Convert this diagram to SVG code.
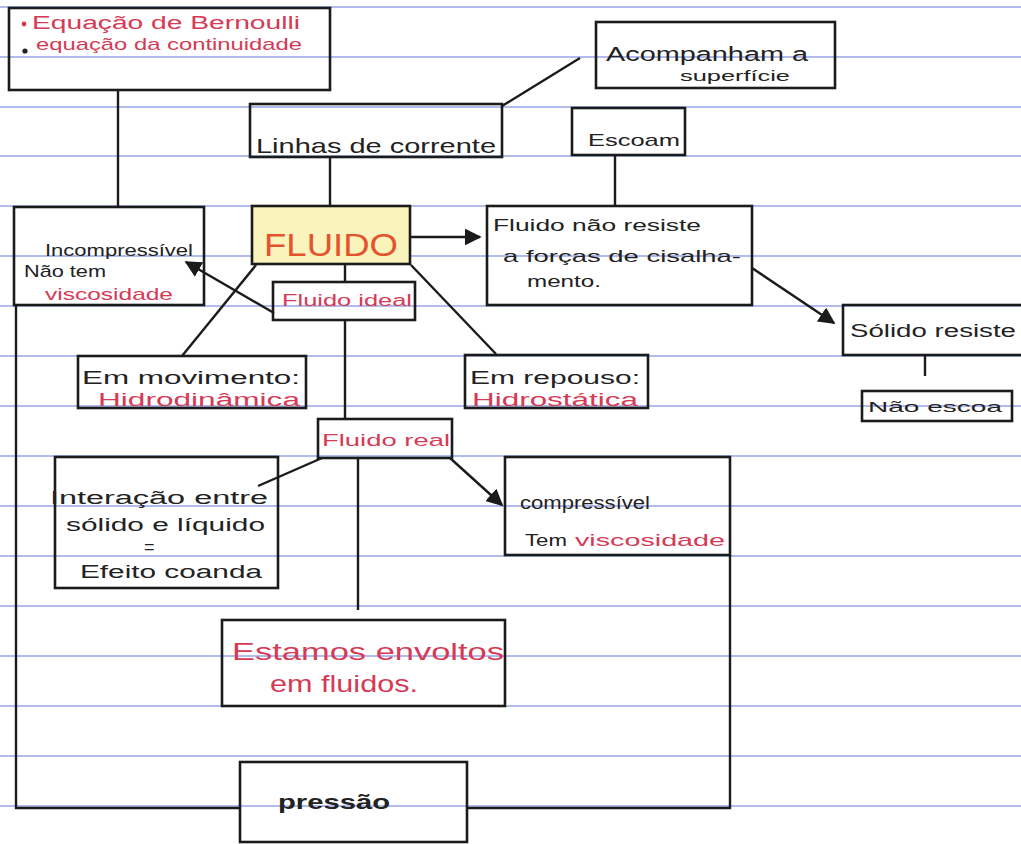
<svg xmlns="http://www.w3.org/2000/svg" width="1021" height="844" viewBox="0 0 1021 844">
<style>
.rule{stroke:#97a6e6;stroke-width:1.6}
.box{fill:none;stroke:#1b1b1b;stroke-width:2.6}
.con{fill:none;stroke:#1b1b1b;stroke-width:2.4}
.t{font-family:"Liberation Sans",Arial,sans-serif;fill:#222}
.r{fill:#d63a55}
</style>
<defs>
<marker id="ah" viewBox="0 0 10 10" refX="9" refY="5" markerWidth="7" markerHeight="7" markerUnits="strokeWidth" orient="auto">
<path d="M0,0 L10,5 L0,10 z" fill="#1b1b1b"/>
</marker>
</defs>
<rect width="1021" height="844" fill="#fff"/>
<g id="paper-lines">
<line class="rule" x1="0" y1="7" x2="1021" y2="7"/>
<line class="rule" x1="0" y1="57" x2="1021" y2="57"/>
<line class="rule" x1="0" y1="107" x2="1021" y2="107"/>
<line class="rule" x1="0" y1="156" x2="1021" y2="156"/>
<line class="rule" x1="0" y1="206" x2="1021" y2="206"/>
<line class="rule" x1="0" y1="256" x2="1021" y2="256"/>
<line class="rule" x1="0" y1="306" x2="1021" y2="306"/>
<line class="rule" x1="0" y1="356" x2="1021" y2="356"/>
<line class="rule" x1="0" y1="406" x2="1021" y2="406"/>
<line class="rule" x1="0" y1="456" x2="1021" y2="456"/>
<line class="rule" x1="0" y1="506" x2="1021" y2="506"/>
<line class="rule" x1="0" y1="556" x2="1021" y2="556"/>
<line class="rule" x1="0" y1="606" x2="1021" y2="606"/>
<line class="rule" x1="0" y1="656" x2="1021" y2="656"/>
<line class="rule" x1="0" y1="706" x2="1021" y2="706"/>
<line class="rule" x1="0" y1="756" x2="1021" y2="756"/>
<line class="rule" x1="0" y1="806" x2="1021" y2="806"/>
</g>
<g id="n-bernoulli">
<rect class="box" x="9" y="8" width="321" height="82"/>
<circle cx="24" cy="24" r="2.4" fill="#d63a55"/>
<text class="t r" x="32" y="29" style="font-size:18px" textLength="268" lengthAdjust="spacingAndGlyphs">Equação de Bernoulli</text>
<circle cx="25" cy="51" r="2.6" fill="#222"/>
<text class="t r" x="36" y="50" style="font-size:17px" textLength="266" lengthAdjust="spacingAndGlyphs">equação da continuidade</text>
</g>
<g id="n-acompanham">
<rect class="box" x="596" y="22" width="239" height="66"/>
<text class="t" x="606" y="61" style="font-size:20px" textLength="202" lengthAdjust="spacingAndGlyphs">Acompanham a</text>
<text class="t" x="680" y="81" style="font-size:15px" textLength="110" lengthAdjust="spacingAndGlyphs">superfície</text>
</g>
<g id="n-linhas">
<rect class="box" x="250" y="104" width="252" height="53"/>
<text class="t" x="256" y="153" style="font-size:21px" textLength="240" lengthAdjust="spacingAndGlyphs">Linhas de corrente</text>
</g>
<g id="n-escoam">
<rect class="box" x="572" y="108" width="113" height="47"/>
<text class="t" x="588" y="146" style="font-size:17px" textLength="92" lengthAdjust="spacingAndGlyphs">Escoam</text>
</g>
<g id="n-fluido">
<rect class="box" x="252" y="206" width="158" height="58" style="fill:#fbf3bc"/>
<text class="t" x="264" y="256" style="font-size:32px;fill:#e4532f" textLength="134" lengthAdjust="spacingAndGlyphs">FLUIDO</text>
</g>
<g id="n-nao-resiste">
<rect class="box" x="487" y="206" width="265" height="99"/>
<text class="t" x="493" y="231" style="font-size:16px" textLength="208" lengthAdjust="spacingAndGlyphs">Fluido não resiste</text>
<text class="t" x="503" y="262" style="font-size:17px" textLength="238" lengthAdjust="spacingAndGlyphs">a forças de cisalha-</text>
<text class="t" x="527" y="287" style="font-size:16px" textLength="74" lengthAdjust="spacingAndGlyphs">mento.</text>
</g>
<g id="n-solido">
<rect class="box" x="843" y="305" width="180" height="50"/>
<text class="t" x="850" y="337" style="font-size:18px" textLength="166" lengthAdjust="spacingAndGlyphs">Sólido resiste</text>
</g>
<g id="n-nao-escoa">
<rect class="box" x="862" y="391" width="150" height="30"/>
<text class="t" x="868" y="412" style="font-size:15px" textLength="134" lengthAdjust="spacingAndGlyphs">Não escoa</text>
</g>
<g id="n-incompressivel">
<rect class="box" x="14" y="207" width="190" height="98"/>
<text class="t" x="45" y="256" style="font-size:17px" textLength="148" lengthAdjust="spacingAndGlyphs">Incompressível</text>
<text class="t" x="24" y="277" style="font-size:17px" textLength="82" lengthAdjust="spacingAndGlyphs">Não tem</text>
<text class="t r" x="45" y="300" style="font-size:17px" textLength="128" lengthAdjust="spacingAndGlyphs">viscosidade</text>
</g>
<g id="n-fluido-ideal">
<rect class="box" x="273" y="282" width="142" height="38"/>
<text class="t r" x="282" y="306" style="font-size:16px" textLength="130" lengthAdjust="spacingAndGlyphs">Fluido ideal</text>
</g>
<g id="n-movimento">
<rect class="box" x="78" y="356" width="228" height="52"/>
<text class="t" x="82" y="384" style="font-size:18px" textLength="218" lengthAdjust="spacingAndGlyphs">Em movimento:</text>
<text class="t r" x="98" y="406" style="font-size:18px" textLength="202" lengthAdjust="spacingAndGlyphs">Hidrodinâmica</text>
</g>
<g id="n-repouso">
<rect class="box" x="465" y="355" width="183" height="53"/>
<text class="t" x="470" y="384" style="font-size:18px" textLength="170" lengthAdjust="spacingAndGlyphs">Em repouso:</text>
<text class="t r" x="472" y="406" style="font-size:18px" textLength="166" lengthAdjust="spacingAndGlyphs">Hidrostática</text>
</g>
<g id="n-fluido-real">
<rect class="box" x="318" y="419" width="134" height="39"/>
<text class="t r" x="322" y="446" style="font-size:17px" textLength="128" lengthAdjust="spacingAndGlyphs">Fluido real</text>
</g>
<g id="n-interacao">
<rect class="box" x="55" y="457" width="223" height="131"/>
<text class="t" x="50" y="504" style="font-size:18px" textLength="218" lengthAdjust="spacingAndGlyphs">Interação entre</text>
<text class="t" x="66" y="531" style="font-size:18px" textLength="199" lengthAdjust="spacingAndGlyphs">sólido e líquido</text>
<text class="t" x="144" y="553" style="font-size:18px">=</text>
<text class="t" x="80" y="578" style="font-size:18px" textLength="182" lengthAdjust="spacingAndGlyphs">Efeito coanda</text>
</g>
<g id="n-compressivel">
<rect class="box" x="505" y="457" width="225" height="98"/>
<text class="t" x="520" y="509" style="font-size:18px" textLength="130" lengthAdjust="spacingAndGlyphs">compressível</text>
<text class="t" x="525" y="546" style="font-size:17px" textLength="42" lengthAdjust="spacingAndGlyphs">Tem</text>
<text class="t r" x="575" y="546" style="font-size:17px" textLength="150" lengthAdjust="spacingAndGlyphs">viscosidade</text>
</g>
<g id="n-estamos">
<rect class="box" x="222" y="620" width="283" height="86"/>
<text class="t r" x="232" y="660" style="font-size:24px" textLength="272" lengthAdjust="spacingAndGlyphs">Estamos envoltos</text>
<text class="t r" x="270" y="692" style="font-size:24px" textLength="148" lengthAdjust="spacingAndGlyphs">em fluidos.</text>
</g>
<g id="n-pressao">
<rect class="box" x="240" y="762" width="227" height="80"/>
<text class="t" x="278" y="809" style="font-size:21px;font-weight:bold" textLength="112" lengthAdjust="spacingAndGlyphs">pressão</text>
</g>
<g id="connectors">
<line class="con" x1="118" y1="90" x2="118" y2="207"/>
<line class="con" x1="502" y1="106" x2="580" y2="58"/>
<line class="con" x1="330" y1="157" x2="330" y2="206"/>
<line class="con" x1="615" y1="155" x2="615" y2="206"/>
<line class="con" x1="411" y1="237" x2="480" y2="237" marker-end="url(#ah)"/>
<line class="con" x1="752" y1="268" x2="834" y2="323" marker-end="url(#ah)"/>
<line class="con" x1="925" y1="356" x2="925" y2="376"/>
<line class="con" x1="345" y1="264" x2="345" y2="282"/>
<line class="con" x1="274" y1="313" x2="186" y2="262" marker-end="url(#ah)"/>
<line class="con" x1="256" y1="265" x2="182" y2="356"/>
<line class="con" x1="411" y1="265" x2="496" y2="354"/>
<line class="con" x1="345" y1="320" x2="345" y2="419"/>
<line class="con" x1="322" y1="458" x2="258" y2="486"/>
<line class="con" x1="358" y1="458" x2="358" y2="610"/>
<line class="con" x1="450" y1="458" x2="502" y2="505" marker-end="url(#ah)"/>
<polyline class="con" points="16,305 16,808 240,808"/>
<polyline class="con" points="467,808 730,808 730,555"/>
</g>
</svg>
